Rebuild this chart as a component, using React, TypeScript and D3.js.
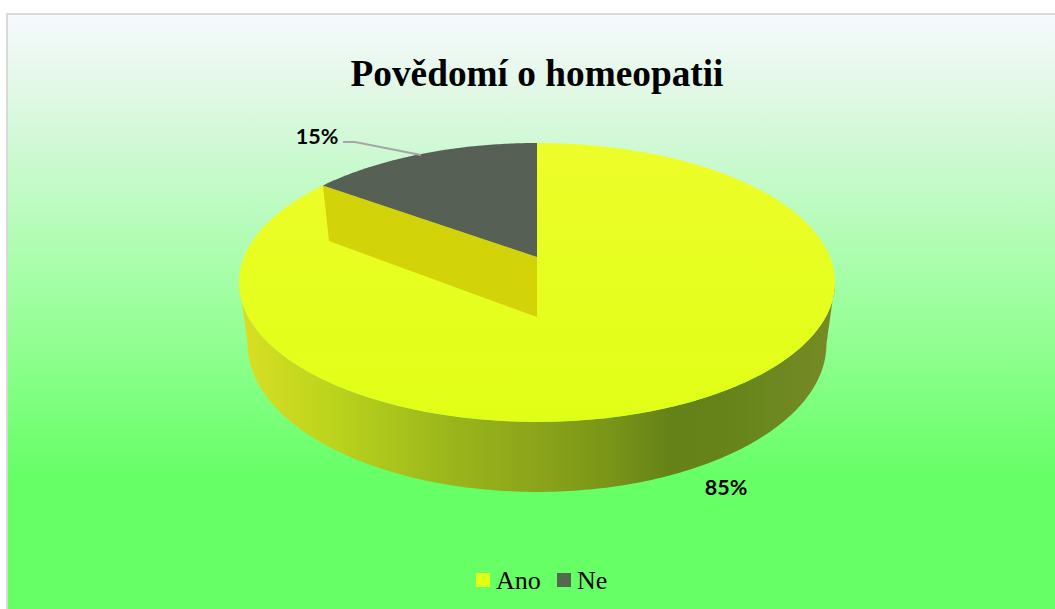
import React from "react";
import * as d3 from "d3";

const categories = ["Ano", "Ne"];
const values = [85, 15];
const percentLabels = ["85%", "15%"];
const colors = ["#e2ff18", "#566055"];
const legendColors = ["#e0ff14", "#4f6b4f"];

const W = 1055, H = 609;
const k = 0.1825;
const cx = 537;
type Disk = { y0: number; A: number; B: number };
const topDisk: Disk = { y0: 257, A: 293, B: 134.8 };
const botDisk: Disk = { y0: 317, A: 284.6, B: 143 };

const project = (d: Disk, t: number): [number, number] => {
  const u = Math.sin(t), v = -Math.cos(t), w = 1 - k * v;
  return [cx + (d.A * u) / w, d.y0 + (d.B * v) / w];
};

const arcPts = (d: Disk, a0: number, a1: number, n = 180): [number, number][] =>
  d3.range(n + 1).map((i) => project(d, a0 + ((a1 - a0) * i) / n));

const line = d3.line<[number, number]>();
const slices = d3.pie<number>().sort(null).startAngle(0).endAngle(2 * Math.PI)(values);
const [ano, ne] = slices;
const tangent = Math.acos(-k);

const sidePts = [
  ...arcPts(topDisk, tangent, 2 * Math.PI - tangent),
  ...arcPts(botDisk, 2 * Math.PI - tangent, tangent),
];
const apexTop: [number, number] = [cx, topDisk.y0];
const apexBot: [number, number] = [cx, botDisk.y0];
const anoTop = [apexTop, ...arcPts(topDisk, ano.startAngle, ano.endAngle, 300)];
const neTop = [apexTop, ...arcPts(topDisk, ne.startAngle, ne.endAngle, 80)];
const wall = [apexTop, project(topDisk, ne.startAngle), project(botDisk, ne.startAngle), apexBot];

const bgStops: [number, string][] = [
  [0, "#f6f9fd"], [0.16, "#e2f8e6"], [0.3, "#cdf9d2"], [0.62, "#9eff9f"], [1, "#66ff66"],
];
const sideStops: [number, string][] = [
  [239, "#d9e024"], [330, "#bcd41c"], [450, "#9ab61b"], [537, "#8ca41a"],
  [610, "#7a9518"], [672, "#648218"], [720, "#658318"], [770, "#6c8820"], [834, "#768a24"],
];
const xPos = d3.scaleLinear().domain([239, 834]).range([0, 1]);

export default function App() {
  return (
    <svg width={W} height={H} style={{ position: "absolute", left: 0, top: 0, display: "block" }}>
      <defs>
        <linearGradient id="bg" gradientUnits="userSpaceOnUse" x1="0" y1="14" x2="0" y2="478">
          {bgStops.map(([o, c]) => <stop key={o} offset={o} stopColor={c} />)}
        </linearGradient>
        <linearGradient id="side" gradientUnits="userSpaceOnUse" x1="239" y1="0" x2="834" y2="0">
          {sideStops.map(([x, c]) => <stop key={x} offset={xPos(x)} stopColor={c} />)}
        </linearGradient>
        <linearGradient id="face" gradientUnits="userSpaceOnUse" x1="0" y1="143" x2="0" y2="422">
          <stop offset="0" stopColor="#edfd2a" />
          <stop offset="1" stopColor="#e0ff16" />
        </linearGradient>
      </defs>
      <rect width={W} height={H} fill="#ffffff" />
      <rect x={7} y={14} width={W} height={H} fill="url(#bg)" stroke="#d9d9d9" strokeWidth={2} />
      <text x={537} y={86} textAnchor="middle" fontFamily="Liberation Serif" fontWeight="bold" fontSize={37.3} fill="#000">
        Povědomí o homeopatii
      </text>

      <path d={line(sidePts)! + "Z"} fill="url(#side)" />
      <path d={line(anoTop)! + "Z"} fill="url(#face)" />
      <path d={line(wall)! + "Z"} fill="#d2d409" />
      <path d={line(neTop)! + "Z"} fill={colors[1]} />

      <polyline points="343,142 355,142 421,155" fill="none" stroke="#a9a4a9" strokeWidth={2} />
      <text x={317} y={144} textAnchor="middle" fontFamily="Lato" fontWeight="bold" fontSize={21.5} fill="#000">{percentLabels[1]}</text>
      <text x={726} y={495} textAnchor="middle" fontFamily="Lato" fontWeight="bold" fontSize={21.5} fill="#000">{percentLabels[0]}</text>

      {categories.map((c, i) => (
        <g key={c} transform={`translate(${i === 0 ? 476 : 557},573)`}>
          <rect width={14} height={14} fill={legendColors[i]} />
          <text x={20} y={16} fontFamily="Liberation Serif" fontSize={26} fill="#000">{c}</text>
        </g>
      ))}
    </svg>
  );
}
